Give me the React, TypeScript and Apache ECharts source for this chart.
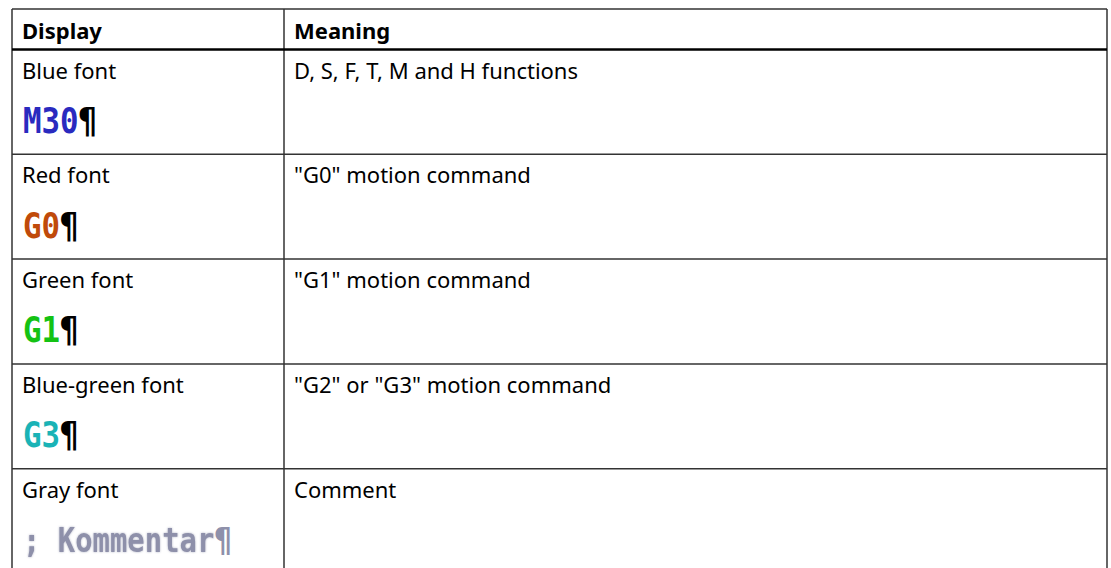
import React, { useEffect, useRef } from "react";
import * as echarts from "echarts";

const headers = ["Display", "Meaning"];
const displayLabels = ["Blue font", "Red font", "Green font", "Blue-green font", "Gray font"];
const meanings = [
  "D, S, F, T, M and H functions",
  "\"G0\" motion command",
  "\"G1\" motion command",
  "\"G2\" or \"G3\" motion command",
  "Comment",
];
const samples = ["M30", "G0", "G1", "G3", "; Kommentar"];
const sampleColors = ["#2a2abf", "#c04a0a", "#14c214", "#1ab3b6", "#8e90aa"];
const markColors = ["#000000", "#000000", "#000000", "#000000", "#8e90aa"];
const MARK = "\u00b6";

const W = 1111;
const H = 568;
const LEFT = 12;
const RIGHT = 1107;
const COL = 284;
const TOP = 9;
const HEAD_BOTTOM = 49.5;
const ROW_H = 104.8;
const TEXT_FONT = "'Noto Sans', 'Open Sans', sans-serif";
const TEXT_SIZE = 22;
const MONO_FONT = "'DejaVu Sans Mono', monospace";

export default function App() {
  const ref = useRef<HTMLDivElement>(null);
  useEffect(() => {
    document.body.style.margin = "0";
    if (!ref.current) return;
    const chart = echarts.init(ref.current, null, { renderer: "svg" });
    const lineColor = "#333333";
    const els: any[] = [];
    els.push({ type: "rect", shape: { x: 0, y: 0, width: W, height: H }, style: { fill: "#ffffff" }, silent: true });
    for (let i = 1; i < displayLabels.length; i++) {
      const y = HEAD_BOTTOM + i * ROW_H;
      els.push({ type: "line", shape: { x1: LEFT, y1: y, x2: RIGHT, y2: y }, style: { stroke: lineColor, lineWidth: 1.5 } });
    }
    els.push({ type: "line", shape: { x1: LEFT, y1: TOP, x2: RIGHT, y2: TOP }, style: { stroke: lineColor, lineWidth: 1.5 } });
    [LEFT, COL, RIGHT].forEach((x) => {
      els.push({ type: "line", shape: { x1: x, y1: TOP, x2: x, y2: H + 2 }, style: { stroke: lineColor, lineWidth: 1.5 } });
    });
    els.push({ type: "rect", shape: { x: LEFT, y: HEAD_BOTTOM - 1.3, width: RIGHT - LEFT, height: 2.6 }, style: { fill: "#000000" } });

    headers.forEach((h, i) => {
      els.push({
        type: "text",
        x: (i === 0 ? LEFT : COL) + 10,
        y: 29.5,
        style: { text: h, font: `bold ${TEXT_SIZE}px ${TEXT_FONT}`, fill: "#000000", verticalAlign: "middle" },
      });
    });

    displayLabels.forEach((lab, i) => {
      const top = HEAD_BOTTOM + i * ROW_H;
      els.push({
        type: "text",
        x: LEFT + 10,
        y: top + 20,
        style: { text: lab, font: `${TEXT_SIZE}px ${TEXT_FONT}`, fill: "#000000", verticalAlign: "middle" },
      });
      els.push({
        type: "text",
        x: COL + 10,
        y: top + 20,
        style: { text: meanings[i], font: `${TEXT_SIZE}px ${TEXT_FONT}`, fill: "#000000", verticalAlign: "middle" },
      });
      const sample = samples[i];
      const isGray = i === samples.length - 1;
      const fs = isGray ? 34 : 35;
      const sx = isGray ? 0.85 : 0.88;
      const charW = 0.602 * fs * sx;
      const sy = top + 71;
      els.push({
        type: "text",
        x: LEFT + 11,
        y: sy,
        scaleX: sx,
        style: {
          text: sample,
          font: `bold ${fs}px ${MONO_FONT}`,
          fill: sampleColors[i],
          verticalAlign: "middle",
          textShadowBlur: isGray ? 2 : 0,
          textShadowColor: isGray ? "#b0b2c4" : "transparent",
        },
      });
      els.push({
        type: "text",
        x: LEFT + 11 + sample.length * charW,
        y: sy,
        scaleX: sx,
        style: {
          text: MARK,
          font: `bold ${fs}px ${MONO_FONT}`,
          fill: markColors[i],
          verticalAlign: "middle",
        },
      });
    });

    chart.setOption({ animation: false, graphic: { elements: els } });
    return () => chart.dispose();
  }, []);
  return <div ref={ref} style={{ width: W, height: H }} />;
}
